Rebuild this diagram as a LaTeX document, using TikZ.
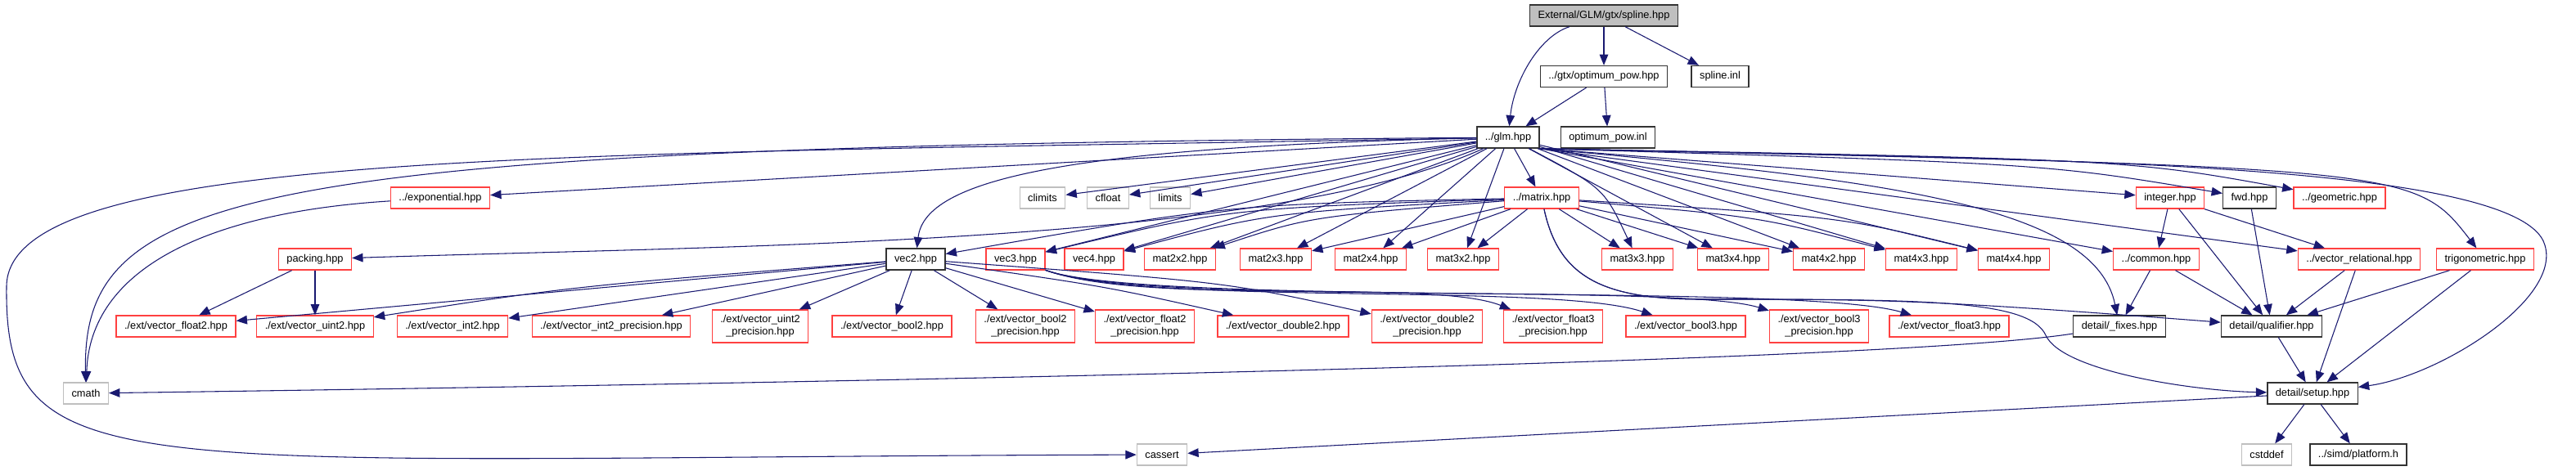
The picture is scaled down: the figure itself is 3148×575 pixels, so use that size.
\documentclass[tikz,border=0pt]{standalone}
\usepackage{fontspec}
\setmainfont{Liberation Sans}
\usetikzlibrary{arrows.meta}
\definecolor{edgeblue}{RGB}{25,25,112}
\definecolor{truncred}{RGB}{255,64,64}
\definecolor{sysgray}{RGB}{191,191,191}
\tikzset{
  hdr/.style={draw=black!80,line width=1pt,fill=white,minimum height=19.5pt,
    inner xsep=7.5pt,inner ysep=2pt,font=\fontsize{9.6}{11.5}\selectfont,align=center},
  trunc/.style={hdr,draw=truncred},
  sys/.style={hdr,draw=sysgray},
  rootbox/.style={hdr,fill=sysgray},
  tall/.style={minimum height=30pt},
  dep/.style={draw=edgeblue,line width=0.8pt,-{Triangle[length=10pt,width=8pt]}}
}
\begin{document}
\begin{tikzpicture}[x=0.75pt,y=-0.75pt]
  \useasboundingbox (0,0) rectangle (3148,575);

  % Верхні рівні.
  \node[rootbox] (root) at (1960,19) {External/GLM/gtx/spline.hpp};
  \node[hdr] (optpow) at (1960,93.5) {../gtx/optimum\_pow.hpp};
  \node[hdr] (splinl) at (2102,93.5) {spline.inl};
  \node[hdr] (glm) at (1843,168) {../glm.hpp};
  \node[hdr] (optinl) at (1965,168) {optimum\_pow.inl};

  \node[trunc] (expo) at (538,242) {../exponential.hpp};
  \node[sys] (climits) at (1274,242) {climits};
  \node[sys] (cfloat) at (1354,242) {cfloat};
  \node[sys] (limits) at (1430,242) {limits};
  \node[trunc] (matrix) at (1884,242) {../matrix.hpp};
  \node[trunc] (integer) at (2652,242) {integer.hpp};
  \node[hdr] (fwd) at (2749,242) {fwd.hpp};
  \node[trunc] (geom) at (2859,242) {../geometric.hpp};

  % Вектори й матриці.
  \node[trunc] (packing) at (385,317) {packing.hpp};
  \node[hdr] (vec2) at (1119,317) {vec2.hpp};
  \node[trunc] (vec3) at (1241,317) {vec3.hpp};
  \node[trunc] (vec4) at (1337,317) {vec4.hpp};
  \foreach \m/\x in {2x2/1442,2x3/1559,2x4/1675,3x2/1788,3x3/2001,3x4/2118,4x2/2235,4x3/2348,4x4/2461}{
    \node[trunc] (m\m) at (\x,317) {mat\m.hpp};
  }
  \node[trunc] (common) at (2635,317) {../common.hpp};
  \node[trunc] (vrel) at (2883,317) {../vector\_relational.hpp};
  \node[trunc] (trig) at (3037,317) {trigonometric.hpp};

  \node[trunc] (vf2) at (215,399) {./ext/vector\_float2.hpp};
  \node[trunc] (vu2) at (385,399) {./ext/vector\_uint2.hpp};
  \node[trunc] (vi2) at (553,399) {./ext/vector\_int2.hpp};
  \node[trunc] (vi2p) at (747,399) {./ext/vector\_int2\_precision.hpp};
  \node[trunc,tall] (vu2p) at (929,399) {./ext/vector\_uint2\\\_precision.hpp};
  \node[trunc] (vb2) at (1090,399) {./ext/vector\_bool2.hpp};
  \node[trunc,tall] (vb2p) at (1253,399) {./ext/vector\_bool2\\\_precision.hpp};
  \node[trunc,tall] (vf2p) at (1399,399) {./ext/vector\_float2\\\_precision.hpp};
  \node[trunc] (vd2) at (1568,399) {./ext/vector\_double2.hpp};
  \node[trunc,tall] (vd2p) at (1744,399) {./ext/vector\_double2\\\_precision.hpp};
  \node[trunc,tall] (vf3p) at (1898,399) {./ext/vector\_float3\\\_precision.hpp};
  \node[trunc] (vb3) at (2060,399) {./ext/vector\_bool3.hpp};
  \node[trunc,tall] (vb3p) at (2223,399) {./ext/vector\_bool3\\\_precision.hpp};
  \node[trunc] (vf3) at (2382,399) {./ext/vector\_float3.hpp};
  \node[hdr] (fixes) at (2590,399) {detail/\_fixes.hpp};
  \node[hdr] (qual) at (2776,399) {detail/qualifier.hpp};

  % Нижні рівні.
  \node[sys] (cmath) at (105,481) {cmath};
  \node[hdr] (setup) at (2826,481) {detail/setup.hpp};
  \node[sys] (cassert) at (1420,556) {cassert};
  \node[sys] (cstddef) at (2770,556) {cstddef};
  \node[hdr] (platform) at (2882,556) {../simd/platform.h};

  % Залежності.
  \draw[dep] (root) .. controls (1880,45) and (1850,100) .. (glm);
  \draw[dep] (root) -- (optpow);
  \draw[dep] (root) -- (splinl);
  \draw[dep] (optpow) -- (glm);
  \draw[dep] (optpow) -- (optinl);

  \foreach \t in {expo,climits,cfloat,limits,matrix,vec3,vec4,m2x2,m2x3,m2x4,m3x2,m3x4,m4x2,m4x3,m4x4}{
    \draw[dep] (glm) -- (\t);
  }
  \foreach \t in {integer,common,vrel}{
    \draw[dep] (glm.south east) -- (\t);
  }
  \draw[dep] (glm) .. controls (1960,230) .. (m3x3);
  \draw[dep] (glm.south east) .. controls (2500,200) .. (fwd);
  \draw[dep] (glm.south east) .. controls (2600,195) .. (geom);
  \draw[dep] (glm.south east) .. controls (2950,205) .. (trig);
  \draw[dep] (glm.south east) .. controls (2300,220) and (2560,250) .. (fixes);
  \draw[dep] (glm.south east) .. controls (2400,195) and (3080,190) .. (3110,300)
    .. controls (3130,367) and (2980,460) .. (setup);
  \draw[dep] (glm) .. controls (1300,180) and (1130,220) .. (vec2);
  \draw[dep] (glm) .. controls (1550,300) and (900,300) .. (packing);
  \draw[dep] (glm) .. controls (300,180) and (100,230) .. (cmath);
  \draw[dep] (glm) .. controls (700,190) and (10,180) .. (8,350)
    .. controls (5,600) and (150,560) .. (cassert);

  \draw[dep] (expo) .. controls (250,260) and (110,330) .. (cmath);

  \draw[dep] (matrix) .. controls (1500,250) .. (vec2);
  \draw[dep] (matrix) .. controls (1500,255) .. (vec3);
  \draw[dep] (matrix) .. controls (1550,260) .. (vec4);
  \draw[dep] (matrix) .. controls (1600,265) .. (m2x2);
  \foreach \t in {m2x3,m2x4,m3x2,m3x3,m3x4,m4x2}{
    \draw[dep] (matrix) -- (\t);
  }
  \draw[dep] (matrix) .. controls (2150,265) .. (m4x3);
  \draw[dep] (matrix) .. controls (2250,265) .. (m4x4);
  \draw[dep] (matrix) .. controls (1905,340) and (1960,366) .. (2080,366)
    .. controls (2300,366) and (2350,366) .. (qual);
  \draw[dep] (matrix) .. controls (1905,340) and (1960,366) .. (2080,366)
    .. controls (2350,366) and (2480,366) .. (2500,410)
    .. controls (2520,454) and (2680,478) .. (setup);

  \foreach \t in {vf2,vi2,vi2p,vu2p,vb2,vb2p,vf2p}{
    \draw[dep] (vec2) -- (\t);
  }
  \draw[dep] (vec2) .. controls (700,350) .. (vu2);
  \draw[dep] (vec2) .. controls (1350,350) .. (vd2);
  \draw[dep] (vec2) .. controls (1500,345) .. (vd2p);

  \draw[dep] (vec3) .. controls (1400,375) and (1750,340) .. (vf3p);
  \draw[dep] (vec3) .. controls (1400,375) and (1900,345) .. (vb3);
  \draw[dep] (vec3) .. controls (1400,375) and (2050,345) .. (vb3p);
  \draw[dep] (vec3) .. controls (1400,375) and (2200,345) .. (vf3);

  \draw[dep] (packing) -- (vf2);
  \draw[dep] (packing) -- (vu2);

  \draw[dep] (integer) -- (common);
  \draw[dep] (integer) -- (qual);
  \draw[dep] (integer) -- (vrel);
  \draw[dep] (fwd) -- (qual);
  \draw[dep] (common) -- (fixes);
  \draw[dep] (common) -- (qual);
  \draw[dep] (vrel) -- (qual);
  \draw[dep] (vrel) -- (setup);
  \draw[dep] (trig) -- (qual);
  \draw[dep] (trig) -- (setup);
  \draw[dep] (qual) -- (setup);
  \draw[dep] (fixes) .. controls (2300,445) and (900,470) .. (cmath);

  \draw[dep] (setup) -- (cassert);
  \draw[dep] (setup) -- (cstddef);
  \draw[dep] (setup) -- (platform);
\end{tikzpicture}
\end{document}
